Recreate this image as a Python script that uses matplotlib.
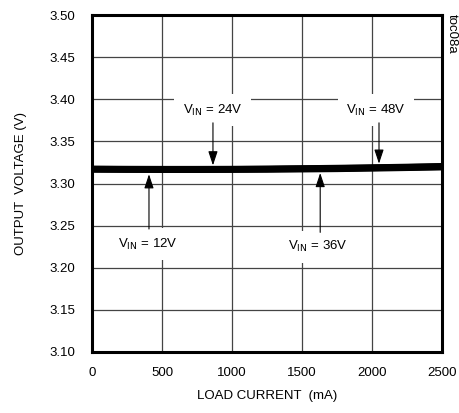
import numpy as np
import matplotlib.pyplot as plt

plt.rcParams['font.family'] = ['Liberation Sans', 'DejaVu Sans']

# load current (mA) and output voltage (V) for each input voltage
load_current = [0, 250, 500, 750, 1000, 1250, 1500, 1750, 2000, 2250, 2500]
vout_12v = [3.3165, 3.3163, 3.3162, 3.3162, 3.3163, 3.3165, 3.3168, 3.3172, 3.3178, 3.3185, 3.3192]
vout_24v = [3.3170, 3.3168, 3.3167, 3.3167, 3.3168, 3.3170, 3.3174, 3.3178, 3.3184, 3.3190, 3.3198]
vout_36v = [3.3172, 3.3170, 3.3169, 3.3169, 3.3170, 3.3172, 3.3176, 3.3181, 3.3187, 3.3194, 3.3202]
vout_48v = [3.3175, 3.3173, 3.3172, 3.3172, 3.3173, 3.3176, 3.3180, 3.3185, 3.3191, 3.3198, 3.3206]

# labels: text, text position, arrow x, arrow tail y, arrow head y
labels = ['V$_{\\rm IN}$ = 12V', 'V$_{\\rm IN}$ = 24V', 'V$_{\\rm IN}$ = 36V', 'V$_{\\rm IN}$ = 48V']
label_x = [400, 860, 1610, 2030]
label_y = [3.228, 3.387, 3.225, 3.387]
arrow_x = [407, 864, 1630, 2050]
arrow_tail = [3.246, 3.372, 3.242, 3.372]
arrow_head = [3.311, 3.3215, 3.3125, 3.3235]

fs = 9.5

fig = plt.figure(figsize=(4.6, 4.13), dpi=100)
ax = fig.add_axes([92 / 460, 1 - 352 / 413, 350 / 460, 337 / 413])

for v in [vout_12v, vout_24v, vout_36v, vout_48v]:
    ax.plot(load_current, v, color='black', lw=4.5, solid_capstyle='butt', zorder=3)

ax.set_xlim(0, 2500)
ax.set_ylim(3.10, 3.50)
ax.set_xticks(np.arange(0, 2501, 500))
ax.set_yticks(np.arange(3.10, 3.501, 0.05))
ax.set_yticklabels([f"{t:.2f}" for t in np.arange(3.10, 3.501, 0.05)])
ax.grid(True, color='#444444', lw=0.9)
ax.set_axisbelow(True)
ax.tick_params(axis='y', length=0, labelsize=fs, pad=12)
ax.tick_params(axis='x', length=0, labelsize=fs, pad=11)
for s in ax.spines.values():
    s.set_linewidth(2.2)

ax.set_xlabel('LOAD CURRENT  (mA)', fontsize=fs, labelpad=8)
ax.set_ylabel('OUTPUT  VOLTAGE (V)', fontsize=fs, labelpad=16)

box = dict(facecolor='white', edgecolor='none', pad=6)
arrow = dict(arrowstyle='-|>,head_length=0.9,head_width=0.3', color='black', lw=0.8,
             shrinkA=0, shrinkB=0, mutation_scale=fs)
for i in range(len(labels)):
    ax.text(label_x[i], label_y[i], labels[i], fontsize=fs, ha='center', va='center',
            bbox=box, zorder=4)
    ax.annotate('', xy=(arrow_x[i], arrow_head[i]), xytext=(arrow_x[i], arrow_tail[i]),
                arrowprops=arrow, zorder=5)

fig.text(452 / 460, 1 - 14 / 413, 'toc08a', rotation=-90, fontsize=fs, ha='center', va='top')

fig.savefig('out.png', dpi=100)
